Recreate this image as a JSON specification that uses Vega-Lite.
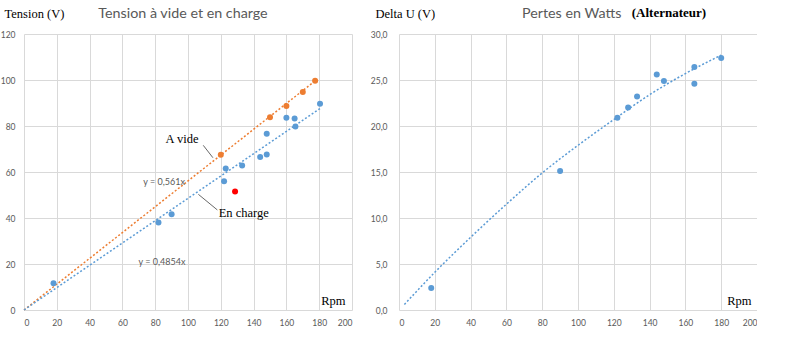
{
  "$schema": "https://vega.github.io/schema/vega-lite/v6.json",
  "padding": {"left": 0, "top": 6, "right": 0, "bottom": 0},
  "bounds": "flush",
  "spacing": 47,
  "background": "#ffffff",
  "datasets": {
    "tension": [
      {"rpm": 18, "u": 11.6, "serie": "En charge"},
      {"rpm": 82, "u": 38, "serie": "En charge"},
      {"rpm": 90, "u": 41.6, "serie": "En charge"},
      {"rpm": 122, "u": 56, "serie": "En charge"},
      {"rpm": 123, "u": 61.5, "serie": "En charge"},
      {"rpm": 133, "u": 62.8, "serie": "En charge"},
      {"rpm": 144, "u": 66.5, "serie": "En charge"},
      {"rpm": 148, "u": 67.6, "serie": "En charge"},
      {"rpm": 148, "u": 76.6, "serie": "En charge"},
      {"rpm": 160, "u": 83.6, "serie": "En charge"},
      {"rpm": 165, "u": 83.3, "serie": "En charge"},
      {"rpm": 165.5, "u": 79.8, "serie": "En charge"},
      {"rpm": 180.5, "u": 89.7, "serie": "En charge"},
      {"rpm": 120, "u": 67.5, "serie": "A vide"},
      {"rpm": 150, "u": 83.8, "serie": "A vide"},
      {"rpm": 160, "u": 88.7, "serie": "A vide"},
      {"rpm": 170, "u": 94.8, "serie": "A vide"},
      {"rpm": 177.5, "u": 99.7, "serie": "A vide"},
      {"rpm": 128.7, "u": 51.5, "serie": "Anomalie"}
    ],
    "trend": [
      {"rpm": 0, "u": 0, "serie": "A vide"},
      {"rpm": 178, "u": 99.9, "serie": "A vide"},
      {"rpm": 0, "u": 0, "serie": "En charge"},
      {"rpm": 180.5, "u": 87.6, "serie": "En charge"}
    ],
    "notes": [
      {"rpm": 96.4, "u": 74.2, "label": "A vide", "kind": "serif"},
      {"rpm": 134, "u": 42, "label": "En charge", "kind": "serif"},
      {"rpm": 85.4, "u": 55.7, "label": "y = 0,561x", "kind": "eq"},
      {"rpm": 84.1, "u": 21, "label": "y = 0,4854x", "kind": "eq"}
    ],
    "leaders": [
      {"rpm": 109.3, "u": 71.6, "rpm2": 115.2, "u2": 66.2},
      {"rpm": 106.3, "u": 50.3, "rpm2": 117.9, "u2": 43.5}
    ],
    "pertes": [
      {"rpm": 18, "du": 2.4},
      {"rpm": 90, "du": 15.1},
      {"rpm": 122, "du": 20.9},
      {"rpm": 128, "du": 22.0},
      {"rpm": 133, "du": 23.2},
      {"rpm": 144, "du": 25.6},
      {"rpm": 148, "du": 24.9},
      {"rpm": 165, "du": 26.4},
      {"rpm": 165, "du": 24.6},
      {"rpm": 180, "du": 27.4}
    ],
    "ptrend": [
      {"rpm": 3, "du": 0.6},
      {"rpm": 20, "du": 4.1},
      {"rpm": 40, "du": 7.9},
      {"rpm": 60, "du": 11.5},
      {"rpm": 80, "du": 14.9},
      {"rpm": 100, "du": 17.9},
      {"rpm": 120, "du": 20.7},
      {"rpm": 140, "du": 23.4},
      {"rpm": 160, "du": 25.7},
      {"rpm": 180, "du": 27.7}
    ],
    "pnotes": [
      {"rpm": 150.8, "du": 32.3, "label": "(Alternateur)"}
    ]
  },
  "hconcat": [
    {
      "width": 328,
      "height": 276,
      "title": {"text": "Tension à vide et en charge", "anchor": "middle", "dx": -5, "offset": -14, "frame": "group"},
      "layer": [
        {
          "data": {"name": "trend"},
          "mark": {"type": "line", "strokeWidth": 1.5, "strokeDash": [2, 2]},
          "encoding": {
            "x": {"field": "rpm", "type": "quantitative", "scale": {"domain": [0, 200], "nice": false},
              "axis": {"tickCount": 10, "title": "Rpm", "titleX": 321, "titleY": -10, "titleAlign": "right", "titleBaseline": "middle", "labelPadding": 8}},
            "y": {"field": "u", "type": "quantitative", "scale": {"domain": [0, 120], "nice": false},
              "axis": {"tickCount": 6, "title": "Tension (V)", "titleAngle": 0, "titleX": -20, "titleY": -21, "titleAlign": "left", "titleBaseline": "middle", "labelPadding": 9}},
            "color": {"field": "serie", "type": "nominal", "legend": null,
              "scale": {"domain": ["A vide", "En charge", "Anomalie"], "range": ["#ED7D31", "#5B9BD5", "#FF0000"]}},
            "detail": {"field": "serie"}
          }
        },
        {
          "data": {"name": "tension"},
          "mark": {"type": "circle", "size": 36, "opacity": 1},
          "encoding": {
            "x": {"field": "rpm", "type": "quantitative"},
            "y": {"field": "u", "type": "quantitative"},
            "color": {"field": "serie", "type": "nominal", "legend": null}
          }
        },
        {
          "data": {"name": "leaders"},
          "mark": {"type": "rule", "color": "#404040", "strokeWidth": 0.8},
          "encoding": {
            "x": {"field": "rpm", "type": "quantitative"},
            "y": {"field": "u", "type": "quantitative"},
            "x2": {"field": "rpm2"},
            "y2": {"field": "u2"}
          }
        },
        {
          "data": {"name": "notes"},
          "transform": [{"filter": "datum.kind === 'serif'"}],
          "mark": {"type": "text", "font": "Liberation Serif", "fontSize": 12.5, "color": "#000000"},
          "encoding": {
            "x": {"field": "rpm", "type": "quantitative"},
            "y": {"field": "u", "type": "quantitative"},
            "text": {"field": "label"}
          }
        },
        {
          "data": {"name": "notes"},
          "transform": [{"filter": "datum.kind === 'eq'"}],
          "mark": {"type": "text", "font": "Lato", "fontSize": 9, "color": "#595959"},
          "encoding": {
            "x": {"field": "rpm", "type": "quantitative"},
            "y": {"field": "u", "type": "quantitative"},
            "text": {"field": "label"}
          }
        }
      ]
    },
    {
      "width": 358,
      "height": 276,
      "title": {"text": "Pertes en Watts", "anchor": "start", "dx": 123, "offset": -14, "frame": "group"},
      "layer": [
        {
          "data": {"name": "ptrend"},
          "mark": {"type": "line", "strokeWidth": 1.5, "strokeDash": [2, 2], "color": "#5B9BD5", "interpolate": "monotone"},
          "encoding": {
            "x": {"field": "rpm", "type": "quantitative", "scale": {"domain": [0, 200], "nice": false},
              "axis": {"tickCount": 10, "title": "Rpm", "titleX": 352, "titleY": -10, "titleAlign": "right", "titleBaseline": "middle", "labelPadding": 8}},
            "y": {"field": "du", "type": "quantitative", "scale": {"domain": [0, 30], "nice": false},
              "axis": {"tickCount": 6, "labelExpr": "replace(format(datum.value, '.1f'), '.', ',')", "title": "Delta U (V)", "titleAngle": 0, "titleX": -24, "titleY": -21, "titleAlign": "left", "titleBaseline": "middle", "labelPadding": 12}}
          }
        },
        {
          "data": {"name": "pertes"},
          "mark": {"type": "circle", "size": 36, "opacity": 1, "color": "#5B9BD5"},
          "encoding": {
            "x": {"field": "rpm", "type": "quantitative"},
            "y": {"field": "du", "type": "quantitative"}
          }
        },
        {
          "data": {"name": "pnotes"},
          "mark": {"type": "text", "font": "Liberation Serif", "fontSize": 13, "fontWeight": "bold", "color": "#000000"},
          "encoding": {
            "x": {"field": "rpm", "type": "quantitative"},
            "y": {"field": "du", "type": "quantitative"},
            "text": {"field": "label"}
          }
        }
      ]
    }
  ],
  "config": {
    "view": {"stroke": null},
    "axis": {
      "grid": true,
      "gridColor": "#d9d9d9",
      "gridWidth": 1,
      "domain": false,
      "ticks": false,
      "labelOverlap": false,
      "labelColor": "#595959",
      "labelFont": "Lato",
      "labelFontSize": 8.5,
      "titleFont": "Liberation Serif",
      "titleFontSize": 12.5,
      "titleFontWeight": "normal",
      "titleColor": "#000000"
    },
    "title": {"font": "Lato", "fontSize": 14.3, "fontWeight": "normal", "color": "#595959"}
  }
}
